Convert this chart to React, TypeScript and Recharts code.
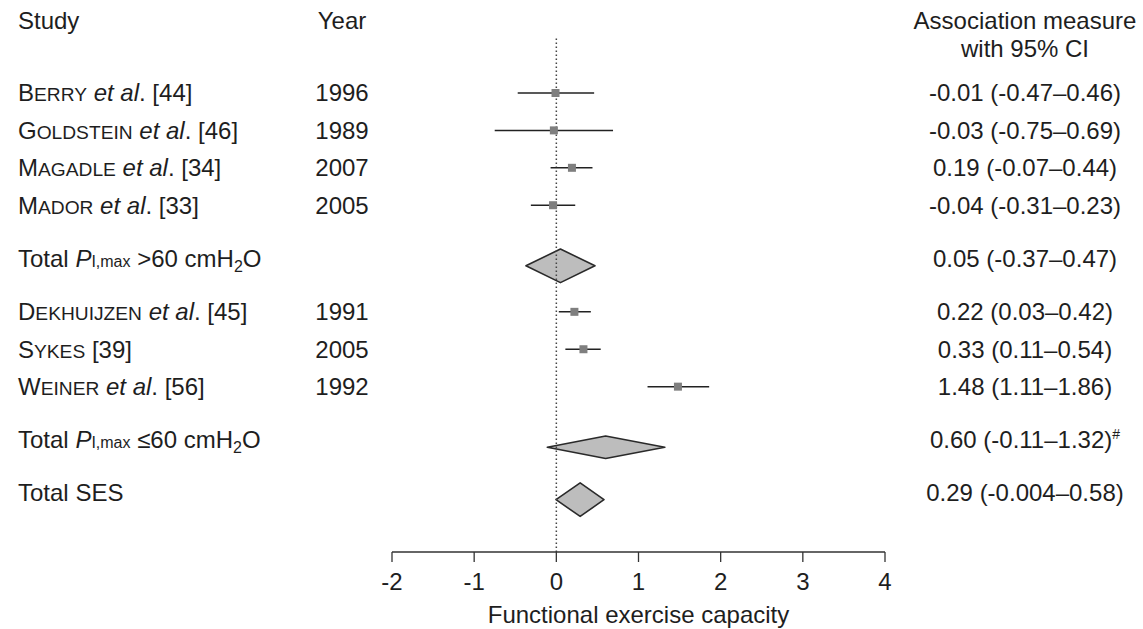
import React from "react";
import {
  ComposedChart,
  XAxis,
  YAxis,
  Scatter,
  ReferenceLine,
  ReferenceArea,
  Customized,
} from "recharts";

const FONT = "'Liberation Sans', Arial, Helvetica, sans-serif";
const INK = "#1e1e1e";
const FS = 24;

// individual studies
const authors = ["Berry", "Goldstein", "Magadle", "Mador", "Dekhuijzen", "Sykes", "Weiner"];
const hasEtAl = [true, true, true, true, true, false, true];
const refs = [44, 46, 34, 33, 45, 39, 56];
const years = [1996, 1989, 2007, 2005, 1991, 2005, 1992];
const studyEst = [-0.01, -0.03, 0.19, -0.04, 0.22, 0.33, 1.48];
const studyLo = [-0.47, -0.75, -0.07, -0.31, 0.03, 0.11, 1.11];
const studyHi = [0.46, 0.69, 0.44, 0.23, 0.42, 0.54, 1.86];

// pooled estimates
const totalThreshold = [">60", "\u226460", null];
const totalEst = [0.05, 0.6, 0.29];
const totalLo = [-0.37, -0.11, -0.004];
const totalHi = [0.47, 1.32, 0.58];
const totalNote = ["", "#", ""];

// top-to-bottom order of rows
const rowOrder: [string, number][] = [
  ["study", 0], ["study", 1], ["study", 2], ["study", 3],
  ["total", 0],
  ["study", 4], ["study", 5], ["study", 6],
  ["total", 1], ["total", 2],
];

const xTicks = [-2, -1, 0, 1, 2, 3, 4];

type Row = { kind: string; idx: number; pos: number };
const rows: Row[] = [];
{
  let pos = 0;
  let prev: string | null = null;
  for (const [kind, idx] of rowOrder) {
    if (prev) {
      if (kind === "total") pos += prev === "total" ? 1.4 : 1.5;
      else pos += prev === "total" ? 1.35 : 1;
    }
    rows.push({ kind, idx, pos });
    prev = kind;
  }
}
const rowTicks = rows.map((r) => r.pos);

const fmt = (v: number) => (v !== 0 && Math.abs(v) < 0.01 ? v.toFixed(3) : v.toFixed(2));
const ciText = (e: number, l: number, h: number) => `${fmt(e)} (${fmt(l)}\u2013${fmt(h)})`;

const studyPoints = rows
  .filter((r) => r.kind === "study")
  .map((r) => ({ x: studyEst[r.idx], y: r.pos }));

// diamond half-heights and a small downward nudge, in row units
const diamondHalf = [0.45, 0.3, 0.45];
const diamondShift = 0.12;

const rowAt = (value: number, index?: number) =>
  rows.find((r) => Math.abs(r.pos - value) < 1e-6) ?? rows[index ?? 0];

function LeftTick(props: any) {
  const { y, payload, index } = props;
  const r = rowAt(payload.value, index);
  const base = y + 8.5;
  if (r.kind === "study") {
    const a = authors[r.idx];
    return (
      <g>
        <text x={18} y={base} fontFamily={FONT} fontSize={FS} fill={INK}>
          <tspan>{a[0]}</tspan>
          <tspan fontSize={FS * 0.8}>{a.slice(1).toUpperCase()}</tspan>
          {hasEtAl[r.idx] ? (
            <>
              <tspan> </tspan>
              <tspan fontStyle="italic">et al</tspan>
              <tspan>.</tspan>
            </>
          ) : null}
          <tspan>{` [${refs[r.idx]}]`}</tspan>
        </text>
        <text x={342} y={base} textAnchor="middle" fontFamily={FONT} fontSize={FS} fill={INK}>
          {years[r.idx]}
        </text>
      </g>
    );
  }
  const th = totalThreshold[r.idx];
  return (
    <text x={18} y={base - 3} fontFamily={FONT} fontSize={FS} fill={INK}>
      <tspan>Total </tspan>
      {th ? (
        <>
          <tspan fontStyle="italic">P</tspan>
          <tspan fontSize={16}>I,max</tspan>
          <tspan>{` ${th} cmH`}</tspan>
          <tspan fontSize={16} dy={5}>2</tspan>
          <tspan dy={-5}>O</tspan>
        </>
      ) : (
        <tspan>SES</tspan>
      )}
    </text>
  );
}

function RightTick(props: any) {
  const { y, payload, index } = props;
  const r = rowAt(payload.value, index);
  const isStudy = r.kind === "study";
  const e = isStudy ? studyEst[r.idx] : totalEst[r.idx];
  const l = isStudy ? studyLo[r.idx] : totalLo[r.idx];
  const h = isStudy ? studyHi[r.idx] : totalHi[r.idx];
  const note = isStudy ? "" : totalNote[r.idx];
  return (
    <text x={1025} y={y + 8.5 - (isStudy ? 0 : 3)} textAnchor="middle" fontFamily={FONT} fontSize={FS} fill={INK}>
      <tspan>{ciText(e, l, h)}</tspan>
      {note ? (
        <tspan fontSize={14} dy={-9}>{note}</tspan>
      ) : null}
    </text>
  );
}

function Headers() {
  const t = { fontFamily: FONT, fontSize: FS, fill: INK };
  return (
    <g>
      <text x={18} y={28.5} {...t}>Study</text>
      <text x={342} y={28.5} textAnchor="middle" {...t}>Year</text>
      <text x={1025} y={28.5} textAnchor="middle" {...t}>Association measure</text>
      <text x={1025} y={56.5} textAnchor="middle" {...t}>with 95% CI</text>
    </g>
  );
}

function XTick(props: any) {
  const { x, y, payload } = props;
  return (
    <text x={x} y={y + 28} textAnchor="middle" fontFamily={FONT} fontSize={FS} fill={INK}>
      {payload.value}
    </text>
  );
}

function Square(props: any) {
  const { cx, cy } = props;
  return <rect x={cx - 4} y={cy - 4} width={8} height={8} fill="#7f7f7f" />;
}

const diamondShape = (est: number, lo: number, hi: number) => (props: any) => {
  const { x, y, width, height } = props;
  const mx = x + (width * (est - lo)) / (hi - lo);
  const my = y + height / 2;
  const pts = `${x},${my} ${mx},${y} ${x + width},${my} ${mx},${y + height}`;
  return <polygon points={pts} fill="#bdbdbd" stroke="#2a2a2a" strokeWidth={1.6} strokeLinejoin="round" />;
};

export default function App() {
  return (
    <div style={{ position: "absolute", left: 0, top: 0, background: "#fff" }}>
      <ComposedChart width={1143} height={629} margin={{ top: 38, right: 0, bottom: 0, left: 0 }}>
        <XAxis
          xAxisId="x"
          type="number"
          dataKey="x"
          domain={[-2, 4]}
          ticks={xTicks}
          allowDataOverflow
          height={77}
          tickSize={10}
          tickMargin={0}
          tick={<XTick />}
          stroke="#333"
          strokeWidth={1.3}
          label={{
            value: "Functional exercise capacity",
            position: "insideBottom",
            offset: 6,
            fontFamily: FONT,
            fontSize: FS,
            fill: INK,
          }}
        />
        <YAxis
          yAxisId="left"
          type="number"
          dataKey="y"
          domain={[-1.47, 12.27]}
          reversed
          allowDataOverflow
          ticks={rowTicks}
          interval={0}
          width={392}
          axisLine={false}
          tickLine={false}
          tick={<LeftTick />}
        />
        <YAxis
          yAxisId="right"
          orientation="right"
          type="number"
          dataKey="y"
          domain={[-1.47, 12.27]}
          reversed
          allowDataOverflow
          ticks={rowTicks}
          interval={0}
          width={258}
          axisLine={false}
          tickLine={false}
          tick={<RightTick />}
        />
        <ReferenceLine
          xAxisId="x"
          yAxisId="left"
          x={0}
          stroke="#444"
          strokeWidth={1.5}
          strokeDasharray="1.5 2.5"
        />
        {rows
          .filter((r) => r.kind === "study")
          .map((r) => (
            <ReferenceLine
              key={`ci-${r.idx}`}
              xAxisId="x"
              yAxisId="left"
              segment={[
                { x: studyLo[r.idx], y: r.pos },
                { x: studyHi[r.idx], y: r.pos },
              ]}
              stroke="#222"
              strokeWidth={1.5}
            />
          ))}
        {rows
          .filter((r) => r.kind === "total")
          .map((r) => (
            <ReferenceArea
              key={`pool-${r.idx}`}
              xAxisId="x"
              yAxisId="left"
              x1={totalLo[r.idx]}
              x2={totalHi[r.idx]}
              y1={r.pos + diamondShift - diamondHalf[r.idx]}
              y2={r.pos + diamondShift + diamondHalf[r.idx]}
              shape={diamondShape(totalEst[r.idx], totalLo[r.idx], totalHi[r.idx])}
            />
          ))}
        <Scatter
          xAxisId="x"
          yAxisId="left"
          data={studyPoints}
          shape={<Square />}
          isAnimationActive={false}
        />
        <Customized component={<Headers />} />
      </ComposedChart>
    </div>
  );
}
